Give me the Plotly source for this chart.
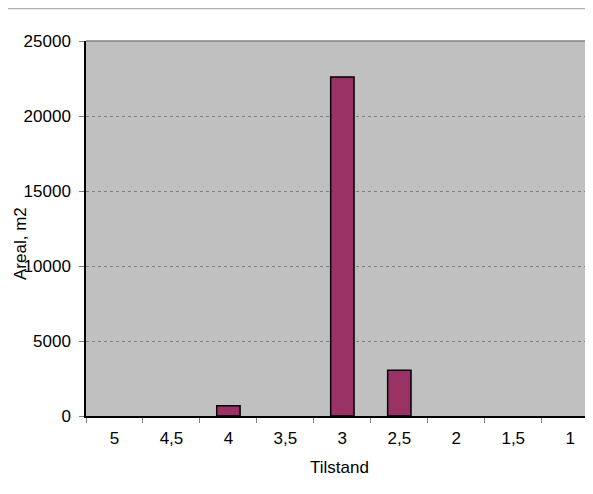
import plotly.graph_objects as go

categories = ["5", "4,5", "4", "3,5", "3", "2,5", "2", "1,5", "1"]
areal = [0, 0, 680, 0, 22600, 3050, 0, 0, 0]
y_ticks = [0, 5000, 10000, 15000, 20000, 25000]

# page has an 8px body margin, so the figure is 8px smaller than the window
W, H = 585, 486
L, R, T, B = 78, 0, 33, 78
pw = W - L - R
ph = H - T - B
FONT = 17

fig = go.Figure()
fig.add_trace(go.Bar(
    x=categories, y=areal,
    marker=dict(color="#993366",
                line=dict(color="black", width=[1.5 if v > 0 else 0 for v in areal])),
    width=0.41,
))

fig.update_layout(
    width=W, height=H,
    margin=dict(l=L, r=R, t=T, b=B),
    paper_bgcolor="white",
    plot_bgcolor="#c0c0c0",
    font=dict(family="Liberation Sans, Arial, sans-serif", size=FONT, color="black"),
    showlegend=False,
)
fig.update_xaxes(
    type="category",
    range=[-0.5, 8.4],
    showgrid=False,
    showline=True, linecolor="black", linewidth=1.5,
    ticks="outside", tickson="boundaries", ticklen=5, tickcolor="#808080",
    tickfont=dict(size=FONT),
    ticklabelstandoff=6,
    title=dict(text="Tilstand", font=dict(size=FONT), standoff=14),
)
fig.update_yaxes(
    range=[0, 25000],
    tickvals=y_ticks,
    ticktext=[str(v) for v in y_ticks],
    showgrid=True, gridcolor="#808080", griddash="dot", gridwidth=1,
    showline=True, linecolor="black", linewidth=1.5,
    ticks="outside", ticklen=5, tickcolor="#808080",
    tickfont=dict(size=FONT),
    ticklabelstandoff=5,
    zeroline=False,
)
# rotated y title placed like the original (overlapping the tick labels)
fig.add_annotation(
    text="Areal, m2", textangle=-90, showarrow=False,
    xref="paper", yref="paper",
    x=(12 - L) / pw, y=(408 - 236) / ph,
    xanchor="center", yanchor="middle",
    font=dict(size=FONT),
)
# top border of plot area
fig.add_shape(type="line", xref="paper", yref="paper", x0=0, x1=1, y0=1, y1=1,
              line=dict(color="#808080", width=1.5))
# thin line at top of figure
fig.add_shape(type="line", xref="paper", yref="paper",
              x0=-L / pw, x1=1, y0=(408 - 0.5) / ph, y1=(408 - 0.5) / ph,
              line=dict(color="#b0b0b0", width=1.5))

fig.write_html("out.html")
